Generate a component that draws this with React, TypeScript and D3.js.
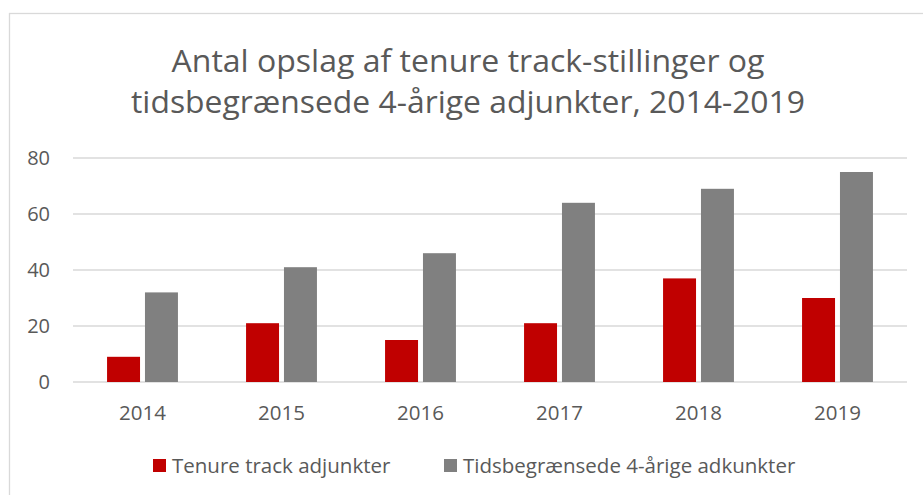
import * as d3 from "d3";
import { useEffect, useRef } from "react";

// data
const years = ["2014", "2015", "2016", "2017", "2018", "2019"];
const tenureTrack = [9, 21, 15, 21, 37, 30];
const tidsbegraensede = [32, 41, 46, 64, 69, 75];
const yTicks = [0, 20, 40, 60, 80];
const seriesNames = ["Tenure track adjunkter", "Tidsbegrænsede 4-årige adkunkter"];
const seriesColors = ["#C00000", "#808080"];
const titleLines = [
    "Antal opslag af tenure track-stillinger og",
    "tidsbegrænsede 4-årige adjunkter, 2014-2019",
];

const W = 923;
const H = 495;
const FONT = "'Open Sans', 'Noto Sans', sans-serif";
const TEXT = "#595959";

const App = () => {
    const ref = useRef<SVGSVGElement>(null);

    useEffect(() => {
        const svg = d3.select(ref.current);
        svg.selectAll("*").remove();

        const margin = { top: 158, bottom: 113, left: 73, right: 16 };
        const innerW = W - margin.left - margin.right;
        const innerH = H - margin.top - margin.bottom;

        // chart area border
        svg.append("rect")
            .attr("x", 9.5).attr("y", 13.5)
            .attr("width", W + 20).attr("height", H + 20)
            .attr("fill", "#fff")
            .attr("stroke", "#D9D9D9")
            .attr("stroke-width", 1.3);

        // title
        svg.append("g")
            .selectAll("text")
            .data(titleLines).enter()
            .append("text")
            .attr("x", 468)
            .attr("y", (d, i) => 72 + i * 41)
            .attr("text-anchor", "middle")
            .attr("font-family", FONT)
            .attr("font-size", 31)
            .attr("fill", TEXT)
            .attr("textLength", (d, i) => (i === 0 ? 593 : 674))
            .attr("lengthAdjust", "spacingAndGlyphs")
            .text(d => d);

        const x = d3.scaleBand().domain(years).range([0, innerW]);
        const y = d3.scaleLinear().domain([0, 80]).range([innerH, 0]);
        const inner = d3.scaleBand()
            .domain(["0", "1"])
            .range([x.bandwidth() * 0.245, x.bandwidth() * 0.755])
            .paddingInner(0.13);

        const g = svg.append("g").attr("transform", `translate(${margin.left},${margin.top})`);

        // gridlines
        g.append("g")
            .selectAll("line")
            .data(yTicks).enter()
            .append("line")
            .attr("x1", 0).attr("x2", innerW)
            .attr("y1", d => y(d)).attr("y2", d => y(d))
            .attr("stroke", "#D9D9D9")
            .attr("stroke-width", 1.3);

        // y labels
        g.append("g")
            .selectAll("text")
            .data(yTicks).enter()
            .append("text")
            .attr("x", -23)
            .attr("y", d => y(d))
            .attr("dy", "0.36em")
            .attr("text-anchor", "end")
            .attr("font-family", FONT)
            .attr("font-size", 20)
            .attr("fill", TEXT)
            .text(d => d);

        // bars
        [tenureTrack, tidsbegraensede].forEach((vals, si) => {
            g.append("g")
                .selectAll("rect")
                .data(vals).enter()
                .append("rect")
                .attr("x", (d, i) => (x(years[i]) as number) + (inner(String(si)) as number))
                .attr("y", d => y(d))
                .attr("width", inner.bandwidth())
                .attr("height", d => innerH - y(d))
                .attr("fill", seriesColors[si]);
        });

        // x labels
        g.append("g")
            .selectAll("text")
            .data(years).enter()
            .append("text")
            .attr("x", d => (x(d) as number) + x.bandwidth() / 2)
            .attr("y", innerH + 38)
            .attr("text-anchor", "middle")
            .attr("font-family", FONT)
            .attr("font-size", 20.5)
            .attr("fill", TEXT)
            .text(d => d);

        // legend
        const legendX = [153, 444];
        const lg = svg.append("g");
        seriesNames.forEach((name, i) => {
            lg.append("rect")
                .attr("x", legendX[i]).attr("y", 459)
                .attr("width", 13).attr("height", 13)
                .attr("fill", seriesColors[i]);
            lg.append("text")
                .attr("x", legendX[i] + 19)
                .attr("y", 472.5)
                .attr("font-family", FONT)
                .attr("font-size", 20.5)
                .attr("fill", TEXT)
                .text(name);
        });
    }, []);

    return (
        <svg
            ref={ref}
            width={W}
            height={H}
            style={{ position: "absolute", left: 0, top: 0, background: "#fff" }}
        ></svg>
    );
};

export default App;
